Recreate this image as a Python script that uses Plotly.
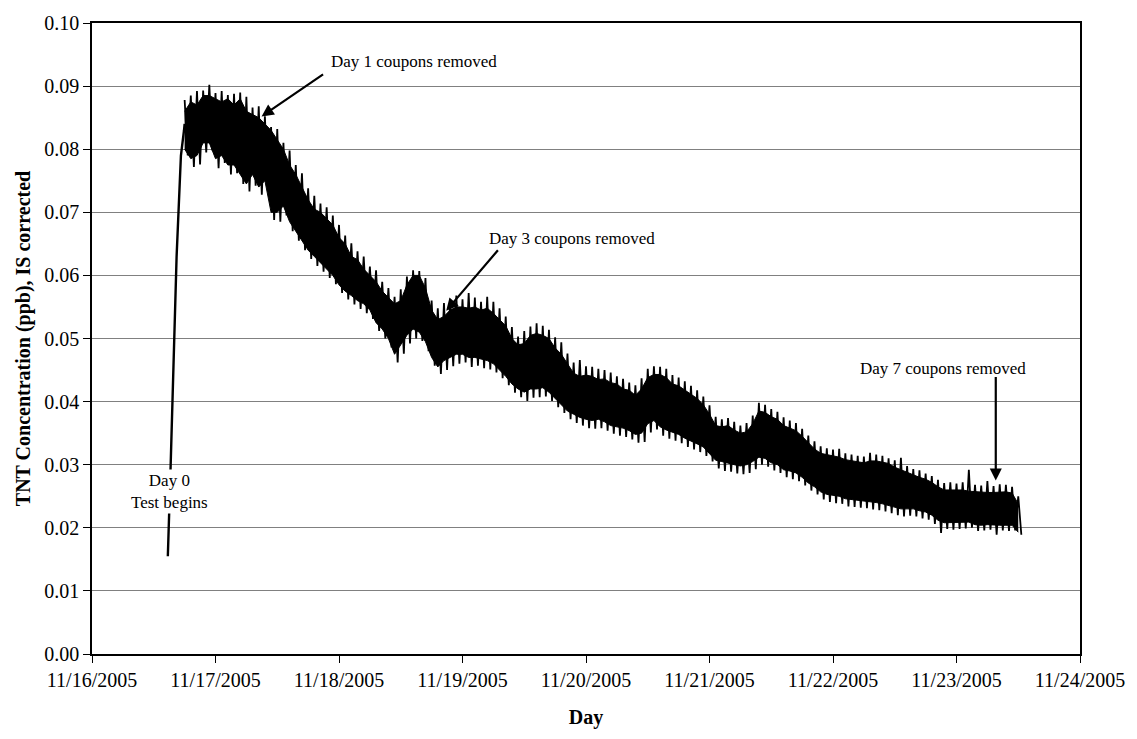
import pandas as pd
import plotly.graph_objects as go

# ---------------- data ----------------
START = pd.Timestamp("2005-11-16")

# initial rise (days after 11/16/2005 00:00, concentration ppb)
rise_days = [0.614, 0.622, 0.637, 0.685, 0.720, 0.745, 0.750]
rise_vals = [0.0155, 0.0222, 0.0300, 0.0630, 0.0790, 0.0830, 0.0840]

# noisy record, sampled every 0.05 day from day 0.75:
# dense core (upper / lower edge) and the spike tips above / below it
band_start, band_step = 0.75, 0.05
band_upper = [
    0.0860, 0.0875, 0.0870, 0.0885, 0.0885, 0.0880, 0.0875, 0.0880, 0.0870, 0.0880,
    0.0860, 0.0855, 0.0850, 0.0840, 0.0830, 0.0815, 0.0800, 0.0775, 0.0760, 0.0740,
    0.0720, 0.0705, 0.0700, 0.0690, 0.0680, 0.0660, 0.0650, 0.0630, 0.0625, 0.0610,
    0.0600, 0.0590, 0.0575, 0.0565, 0.0555, 0.0560, 0.0585, 0.0600, 0.0600, 0.0580,
    0.0545, 0.0530, 0.0535, 0.0545, 0.0550, 0.0550, 0.0548, 0.0550, 0.0545, 0.0548,
    0.0540, 0.0530, 0.0520, 0.0500, 0.0490, 0.0492, 0.0505, 0.0508, 0.0505, 0.0500,
    0.0485, 0.0475, 0.0460, 0.0445, 0.0440, 0.0442, 0.0440, 0.0435, 0.0436, 0.0430,
    0.0428, 0.0420, 0.0418, 0.0410, 0.0420, 0.0438, 0.0443, 0.0443, 0.0438, 0.0428,
    0.0425, 0.0418, 0.0412, 0.0405, 0.0395, 0.0380, 0.0362, 0.0360, 0.0362, 0.0355,
    0.0350, 0.0352, 0.0365, 0.0385, 0.0383, 0.0376, 0.0372, 0.0362, 0.0358, 0.0354,
    0.0345, 0.0335, 0.0325, 0.0318, 0.0316, 0.0314, 0.0312, 0.0308, 0.0306, 0.0304,
    0.0303, 0.0306, 0.0306, 0.0304, 0.0302, 0.0296, 0.0292, 0.0287, 0.0283, 0.0280,
    0.0277, 0.0272, 0.0265, 0.0260, 0.0260, 0.0260, 0.0260, 0.0258, 0.0257, 0.0256,
    0.0256, 0.0256, 0.0257, 0.0257, 0.0255, 0.0238,
]
band_lower = [
    0.0800, 0.0785, 0.0790, 0.0810, 0.0810, 0.0785, 0.0790, 0.0775, 0.0775, 0.0760,
    0.0745, 0.0760, 0.0740, 0.0750, 0.0700, 0.0700, 0.0710, 0.0685, 0.0670, 0.0655,
    0.0640, 0.0630, 0.0620, 0.0610, 0.0600, 0.0585, 0.0575, 0.0568, 0.0560, 0.0555,
    0.0545, 0.0525, 0.0515, 0.0500, 0.0475, 0.0490, 0.0505, 0.0515, 0.0510, 0.0495,
    0.0470, 0.0455, 0.0465, 0.0470, 0.0475, 0.0475, 0.0470, 0.0470, 0.0468, 0.0465,
    0.0460, 0.0450, 0.0440, 0.0428, 0.0420, 0.0415, 0.0420, 0.0420, 0.0422, 0.0415,
    0.0405, 0.0395, 0.0385, 0.0380, 0.0375, 0.0372, 0.0370, 0.0372, 0.0368, 0.0362,
    0.0360, 0.0358, 0.0354, 0.0348, 0.0350, 0.0365, 0.0370, 0.0360, 0.0355, 0.0352,
    0.0348, 0.0342, 0.0338, 0.0333, 0.0328, 0.0318, 0.0307, 0.0305, 0.0302, 0.0300,
    0.0298, 0.0300, 0.0305, 0.0312, 0.0310, 0.0303, 0.0300, 0.0292, 0.0290, 0.0287,
    0.0280, 0.0271, 0.0265, 0.0257, 0.0253, 0.0251, 0.0250, 0.0246, 0.0245, 0.0244,
    0.0243, 0.0241, 0.0240, 0.0238, 0.0235, 0.0232, 0.0230, 0.0230, 0.0230, 0.0227,
    0.0225, 0.0220, 0.0212, 0.0208, 0.0208, 0.0208, 0.0208, 0.0209, 0.0205, 0.0204,
    0.0205, 0.0204, 0.0204, 0.0204, 0.0204, 0.0193,
]
spike_high = [
    0.0878, 0.0885, 0.0892, 0.0893, 0.0902, 0.0889, 0.0892, 0.0886, 0.0888, 0.0890,
    0.0883, 0.0866, 0.0868, 0.0852, 0.0835, 0.0832, 0.0810, 0.0798, 0.0775, 0.0762,
    0.0738, 0.0726, 0.0714, 0.0708, 0.0695, 0.0680, 0.0663, 0.0651, 0.0638, 0.0630,
    0.0614, 0.0608, 0.0590, 0.0580, 0.0566, 0.0578, 0.0598, 0.0608, 0.0607, 0.0596,
    0.0560, 0.0548, 0.0556, 0.0558, 0.0568, 0.0562, 0.0572, 0.0565, 0.0558, 0.0566,
    0.0558, 0.0548, 0.0535, 0.0518, 0.0503, 0.0512, 0.0519, 0.0524, 0.0520, 0.0514,
    0.0502, 0.0494, 0.0476, 0.0462, 0.0466, 0.0456, 0.0455, 0.0452, 0.0450, 0.0446,
    0.0440, 0.0436, 0.0430, 0.0426, 0.0437, 0.0452, 0.0456, 0.0455, 0.0452, 0.0442,
    0.0438, 0.0432, 0.0425, 0.0418, 0.0408, 0.0394, 0.0376, 0.0372, 0.0374, 0.0368,
    0.0362, 0.0366, 0.0378, 0.0398, 0.0395, 0.0388, 0.0384, 0.0375, 0.0370, 0.0366,
    0.0357, 0.0346, 0.0337, 0.0329, 0.0326, 0.0324, 0.0325, 0.0318, 0.0316, 0.0314,
    0.0313, 0.0319, 0.0316, 0.0314, 0.0310, 0.0307, 0.0311, 0.0298, 0.0293, 0.0291,
    0.0286, 0.0282, 0.0276, 0.0271, 0.0272, 0.0270, 0.0272, 0.0292, 0.0268, 0.0267,
    0.0274, 0.0266, 0.0269, 0.0268, 0.0265, 0.0250,
]
spike_low = [
    0.0790, 0.0772, 0.0776, 0.0795, 0.0798, 0.0770, 0.0778, 0.0760, 0.0762, 0.0745,
    0.0733, 0.0742, 0.0728, 0.0735, 0.0688, 0.0685, 0.0695, 0.0670, 0.0655, 0.0640,
    0.0626, 0.0615, 0.0606, 0.0596, 0.0586, 0.0572, 0.0562, 0.0554, 0.0547, 0.0540,
    0.0531, 0.0512, 0.0500, 0.0486, 0.0462, 0.0476, 0.0492, 0.0500, 0.0496, 0.0480,
    0.0457, 0.0444, 0.0450, 0.0456, 0.0460, 0.0462, 0.0455, 0.0457, 0.0453, 0.0451,
    0.0446, 0.0437, 0.0426, 0.0414, 0.0407, 0.0401, 0.0406, 0.0407, 0.0408, 0.0401,
    0.0391, 0.0382, 0.0372, 0.0366, 0.0362, 0.0358, 0.0357, 0.0358, 0.0354, 0.0349,
    0.0346, 0.0344, 0.0340, 0.0335, 0.0336, 0.0351, 0.0356, 0.0346, 0.0341, 0.0338,
    0.0334, 0.0328, 0.0324, 0.0320, 0.0314, 0.0305, 0.0294, 0.0290, 0.0289, 0.0286,
    0.0285, 0.0287, 0.0293, 0.0300, 0.0297, 0.0291, 0.0287, 0.0280, 0.0277, 0.0274,
    0.0267, 0.0259, 0.0253, 0.0245, 0.0241, 0.0239, 0.0238, 0.0234, 0.0233, 0.0232,
    0.0231, 0.0229, 0.0228, 0.0226, 0.0223, 0.0220, 0.0218, 0.0219, 0.0218, 0.0215,
    0.0213, 0.0206, 0.0192, 0.0198, 0.0197, 0.0198, 0.0199, 0.0200, 0.0195, 0.0196,
    0.0197, 0.0189, 0.0196, 0.0195, 0.0196, 0.0189,
]

x_tick_dates = ["2005-11-16", "2005-11-17", "2005-11-18", "2005-11-19", "2005-11-20",
                "2005-11-21", "2005-11-22", "2005-11-23", "2005-11-24"]
x_tick_labels = ["11/16/2005", "11/17/2005", "11/18/2005", "11/19/2005", "11/20/2005",
                 "11/21/2005", "11/22/2005", "11/23/2005", "11/24/2005"]
y_tick_vals = [0.00, 0.01, 0.02, 0.03, 0.04, 0.05, 0.06, 0.07, 0.08, 0.09, 0.10]
y_tick_labels = ["0.00", "0.01", "0.02", "0.03", "0.04", "0.05", "0.06", "0.07",
                 "0.08", "0.09", "0.10"]

# annotation events: (label, day of arrow tip, value of arrow tip)
events = [
    ("Day 1 coupons removed", 1.373, 0.0852),
    ("Day 3 coupons removed", 2.868, 0.0544),
    ("Day 7 coupons removed", 7.318, 0.0275),
]


def to_time(days):
    return [START + pd.Timedelta(days=float(d)) for d in days]


band_days = [band_start + i * band_step for i in range(len(band_upper))]
# zig-zag of the raw signal: spike up at each sample, spike down half a step later
zig_days, zig_vals = [], []
for d, hi, lo in zip(band_days, spike_high, spike_low):
    zig_days += [d, d + band_step / 2]
    zig_vals += [hi, lo]

FONT = "Liberation Serif"
fig = go.Figure()

fig.add_trace(go.Scatter(x=to_time(rise_days), y=rise_vals, mode="lines",
                         line=dict(color="black", width=2.4), hoverinfo="skip"))
fig.add_trace(go.Scatter(x=to_time(band_days), y=band_lower, mode="lines",
                         line=dict(color="black", width=1), hoverinfo="skip"))
fig.add_trace(go.Scatter(x=to_time(band_days), y=band_upper, mode="lines",
                         line=dict(color="black", width=1), fill="tonexty",
                         fillcolor="black", hoverinfo="skip"))
fig.add_trace(go.Scatter(x=to_time(zig_days), y=zig_vals, mode="lines",
                         line=dict(color="black", width=1.8), hoverinfo="skip"))

# arrows (tail offsets in pixels) and labels
arrow_offsets = [(63, -43), (53, -62), (0, -105)]
label_pos = [(2.609, 0.0939), (3.885, 0.0658), (6.890, 0.0452)]
for (txt, d, v), (ax, ay), (ld, lv) in zip(events, arrow_offsets, label_pos):
    fig.add_annotation(x=to_time([d])[0], y=v, xref="x", yref="y", text="",
                       showarrow=True, ax=ax, ay=ay, axref="pixel", ayref="pixel",
                       arrowhead=2, arrowsize=1.1, arrowwidth=2.2, arrowcolor="black",
                       standoff=0)
    fig.add_annotation(x=to_time([ld])[0], y=lv, xref="x", yref="y", text=txt,
                       showarrow=False, font=dict(family=FONT, size=17, color="black"))

fig.add_annotation(x=to_time([0.63])[0], y=0.0257, xref="x", yref="y",
                   text="Day 0<br>Test begins", showarrow=False, bgcolor="white",
                   font=dict(family=FONT, size=17, color="black"))

fig.update_layout(
    width=1137, height=739,
    margin=dict(l=92, r=55, t=13, b=85),
    plot_bgcolor="white", paper_bgcolor="white",
    showlegend=False,
    font=dict(family=FONT, size=20, color="black"),
)
fig.update_xaxes(
    type="date", range=["2005-11-16", "2005-11-24"],
    tickvals=x_tick_dates, ticktext=x_tick_labels,
    ticks="outside", ticklen=7, tickwidth=1.2, tickcolor="black",
    showline=True, linecolor="black", linewidth=1.6, mirror=True,
    showgrid=False, zeroline=False,
    title=dict(text="<b>Day</b>", standoff=20, font=dict(family=FONT, size=20)),
)
fig.update_yaxes(
    range=[0, 0.1], tickvals=y_tick_vals, ticktext=y_tick_labels,
    ticks="outside", ticklen=7, tickwidth=1.2, tickcolor="black",
    showline=True, linecolor="black", linewidth=1.6, mirror=True,
    showgrid=True, gridcolor="#808080", gridwidth=1, zeroline=False,
    title=dict(text="<b>TNT Concentration (ppb), IS corrected</b>", standoff=8,
               font=dict(family=FONT, size=20)),
)

fig.write_html("out.html")
